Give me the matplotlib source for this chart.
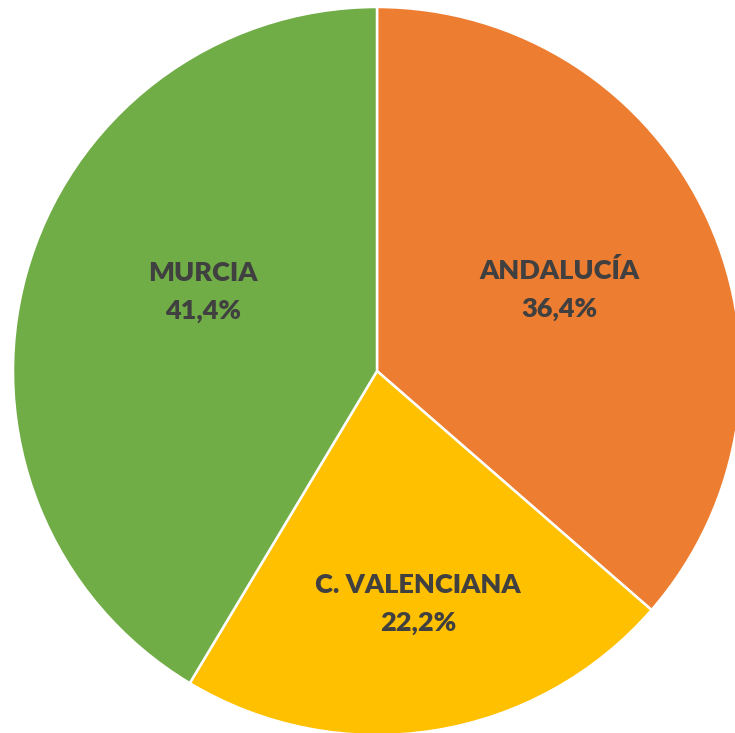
import matplotlib.pyplot as plt
import numpy as np

regions = ["ANDALUCÍA", "C. VALENCIANA", "MURCIA"]
shares = [36.4, 22.2, 41.4]
colors = ["#ED7D31", "#FFC000", "#70AD47"]

# label placement (radius, angle in degrees) relative to pie centre
label_pos = [(0.55, 24), (0.65, -80), (0.525, 155.5)]

fig = plt.figure(figsize=(7.35, 7.33), dpi=100)
ax = fig.add_axes([0, 0, 1, 1])

r_px = 364
cx, cy = 377, 371

wedges, _ = ax.pie(shares, colors=colors, startangle=90, counterclock=False,
                   radius=1.0, wedgeprops=dict(edgecolor="white", linewidth=1.8),
                   normalize=True)
ax.set_xlim(-cx / r_px, (735 - cx) / r_px)
ax.set_ylim(-(733 - cy) / r_px, cy / r_px)
ax.axis("off")

for name, val, (r, ang) in zip(regions, shares, label_pos):
    a = np.deg2rad(ang)
    pct = f"{val:.1f}".replace(".", ",")
    ax.text(r * np.cos(a), r * np.sin(a), f"{name}\n{pct}%", ha="center", va="center",
            fontsize=19.5, fontweight="heavy", family="Lato", color="#404040",
            linespacing=1.7, multialignment="center")

fig.savefig("out.png", dpi=100)
